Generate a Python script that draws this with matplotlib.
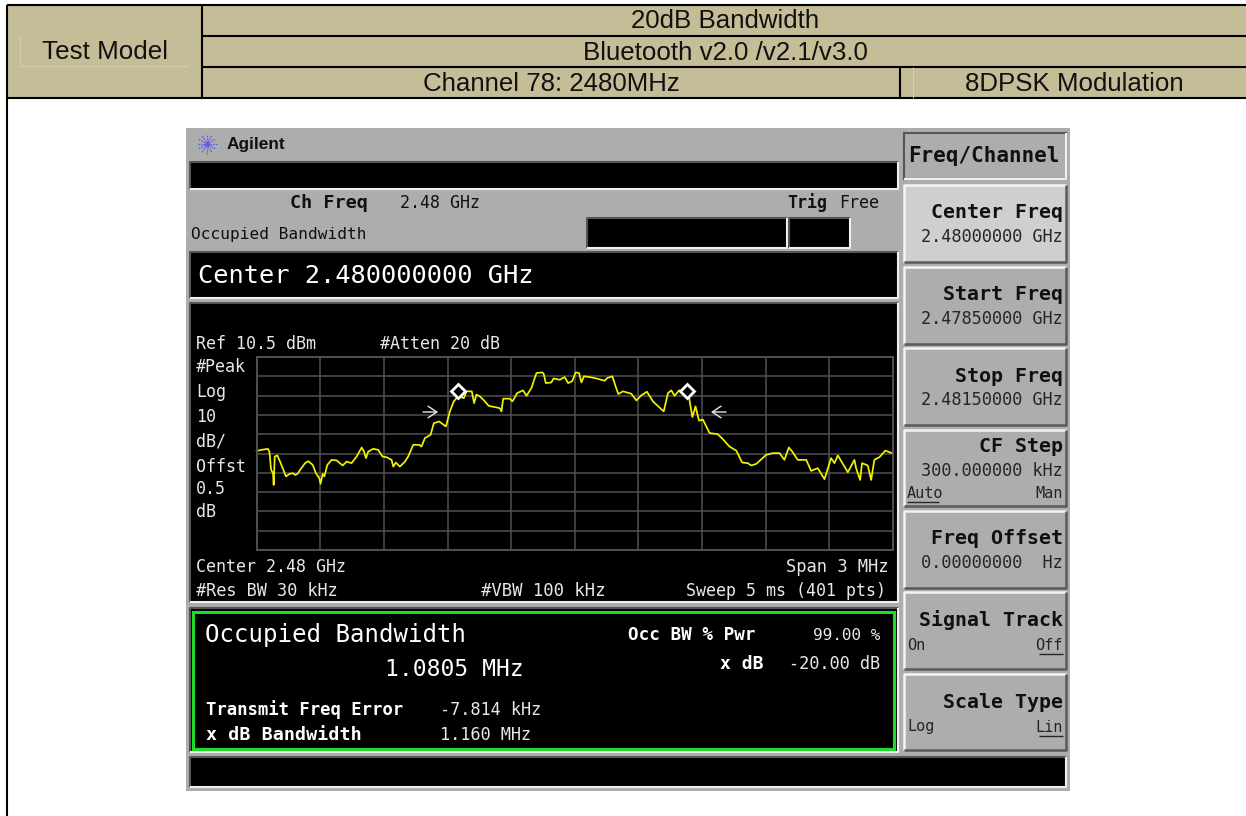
import matplotlib
matplotlib.use("Agg")
import matplotlib.pyplot as plt
from matplotlib.patches import Rectangle
import numpy as np

# ---------- data ----------
freq_offset_mhz = [-1.5,-1.476,-1.448,-1.44,-1.432,-1.423,-1.42,-1.415,-1.403,-1.39,-1.374,-1.362,-1.346,-1.33,-1.319,-1.308,
 -1.293,-1.272,-1.257,-1.236,-1.221,-1.205,-1.199,-1.189,-1.181,-1.167,-1.147,-1.123,-1.095,-1.076,-1.053,-1.029,-1.005,
 -0.994,-0.985,-0.974,-0.951,-0.927,-0.907,-0.888,-0.864,-0.856,-0.844,-0.825,-0.801,-0.786,-0.762,-0.734,-0.723,-0.707,
 -0.68,-0.665,-0.64,-0.608,-0.589,-0.571,-0.55,-0.523,-0.511,-0.486,-0.475,-0.464,-0.448,-0.432,-0.406,-0.377,-0.354,
 -0.346,-0.338,-0.307,-0.294,-0.272,-0.244,-0.228,-0.205,-0.181,-0.153,-0.147,-0.137,-0.111,-0.1,-0.071,-0.048,-0.032,
 -0.013,0.004,0.02,0.031,0.043,0.07,0.101,0.141,0.152,0.177,0.192,0.205,0.227,0.266,0.29,0.313,0.34,0.368,0.397,0.419,
 0.439,0.455,0.47,0.491,0.51,0.538,0.544,0.554,0.569,0.585,0.604,0.635,0.674,0.698,0.729,0.761,0.789,0.816,0.831,0.855,
 0.902,0.934,0.965,0.988,1.009,1.025,1.051,1.091,1.114,1.145,1.177,1.208,1.224,1.24,1.287,1.318,1.326,1.345,1.354,
 1.381,1.397,1.412,1.436,1.464,1.499]
level_dbm = [-38.1,-37.6,-37.1,-38.5,-48.0,-49.7,-55.8,-41.1,-40.5,-43.7,-48.0,-51.4,-50.1,-49.7,-50.6,-50.1,
 -47.6,-44.5,-43.5,-45.4,-49.7,-52.3,-55.2,-50.1,-51.4,-45.4,-42.8,-43.1,-45.7,-43.7,-44.5,-41.1,-36.4,
 -38.5,-41.9,-38.5,-37.1,-37.6,-41.1,-41.4,-42.8,-46.3,-44.2,-46.3,-43.7,-41.1,-35.0,-35.0,-35.9,-31.5,
 -29.8,-23.8,-22.9,-25.5,-17.7,-12.5,-9.9,-10.8,-7.3,-7.3,-13.4,-9.0,-9.9,-11.6,-14.8,-15.5,-16.0,
 -17.7,-11.1,-11.1,-12.5,-8.2,-6.8,-9.6,-5.6,2.2,2.5,1.8,-3.0,-2.7,-0.6,-1.3,0.1,-3.0,
 -2.1,2.5,2.2,-2.7,0.5,0.1,-0.6,-1.8,-0.4,0.5,-4.7,-8.7,-7.3,-8.5,-12.0,-9.4,-7.5,-12.5,-15.5,-17.7,
 -8.2,-6.8,-9.6,-6.8,-7.3,-9.9,-14.2,-20.6,-15.1,-22.4,-22.0,-28.9,-29.5,-32.1,-35.9,-38.0,-44.2,-44.5,-45.7,-44.9,
 -40.2,-39.3,-39.3,-42.8,-36.4,-38.5,-42.8,-42.8,-48.5,-47.1,-52.8,-41.9,-44.5,-40.5,-49.2,-42.8,-47.1,-53.2,-44.5,
 -45.7,-53.2,-42.8,-41.4,-38.0,-39.5]
marker_f = [-0.55, 0.53]
marker_l = [-7.0, -6.9]
ref_level = 10.5
db_per_div = 10
span_mhz = 3
softkeys = [("Center Freq", "2.48000000 GHz"), ("Start Freq", "2.47850000 GHz"), ("Stop Freq", "2.48150000 GHz"),
            ("CF Step", "300.000000 kHz"), ("Freq Offset", "0.00000000  Hz"), ("Signal Track", ""), ("Scale Type", "")]

W, H = 1246, 816
fig = plt.figure(figsize=(W/100, H/100), dpi=100, facecolor="white")
ax = fig.add_axes([0, 0, 1, 1])
ax.set_xlim(0, W); ax.set_ylim(H, 0); ax.axis("off")

TAN = "#C4BD97"; GRAY = "#ADADAD"; MONO = "DejaVu Sans Mono"; SANS = "Liberation Sans"

def rect(x0, y0, x1, y1, fc, ec="none", lw=0, z=1):
    ax.add_patch(Rectangle((x0, y0), x1-x0, y1-y0, fc=fc, ec=ec, lw=lw, zorder=z))

def line(xs, ys, c="black", lw=1.5, z=3):
    ax.plot(xs, ys, color=c, lw=lw, zorder=z, solid_capstyle="butt")

def txt(x, y, s, size, c="#101010", ha="left", weight="normal", fam=MONO):
    ax.text(x, y, s, fontsize=size, color=c, ha=ha, va="center", fontweight=weight, family=fam, zorder=6)

# ---------- table header ----------
rect(7, 5, W, 98, TAN)
line([7, W], [5, 5]); line([202, W], [36, 36]); line([202, W], [67, 67]); line([7, W], [98, 98])
line([7, 7], [5, H]); line([202, 202], [5, 98]); line([900, 900], [67, 98])
line([20, 20], [36, 66], c="#D4CEAE", lw=0.7); line([20, 188], [66, 66], c="#D4CEAE", lw=0.7)
line([913, 913], [67, 98], c="#D4CEAE", lw=0.7)
txt(105, 52, "Test Model", 18.7, ha="center", fam=SANS)
txt(725, 21, "20dB Bandwidth", 18.6, ha="center", fam=SANS)
txt(725, 53, "Bluetooth v2.0 /v2.1/v3.0", 18.6, ha="center", fam=SANS)
txt(551, 84, "Channel 78: 2480MHz", 18.6, ha="center", fam=SANS)
txt(1074, 84, "8DPSK Modulation", 18.6, ha="center", fam=SANS)

# ---------- instrument body ----------
rect(186, 128, 1070, 791, GRAY)
def black(x0, y0, x1, y1):
    rect(x0, y0, x1, y1, "black", z=2)
    line([x0, x0, x1], [y1, y0, y0], c="#555555", lw=1.5)
    line([x0, x1, x1], [y1, y1, y0], c="#F0F0F0", lw=1.5)
black(190, 162, 898, 189)
black(587, 218, 787, 248); black(789, 218, 850, 248)
black(190, 252, 898, 298); black(190, 303, 898, 602); black(190, 608, 898, 752)
black(190, 757, 1066, 787)
rect(193, 612, 894, 749, "none", ec="#1EDC28", lw=2.2, z=3)

# Agilent logo
for a in np.arange(0, 2*np.pi, np.pi/6):
    ax.plot([207+2.5*np.cos(a), 207+10*np.cos(a)], [144+2.5*np.sin(a), 144+10*np.sin(a)],
            color="#5A5AF0", lw=0.9, ls=(0, (1.3, 0.8)), zorder=3)
ax.plot([207], [144], "o", ms=2.5, color="#5A5AF0", zorder=3)
txt(227, 145, "Agilent", 12.4, weight="bold", fam=SANS)
txt(290, 203, "Ch Freq", 13.3, weight="bold")
txt(400, 203, "2.48 GHz", 12)
txt(191, 235, "Occupied Bandwidth", 11.6)
txt(787, 203, "Trig", 12, weight="bold")
txt(839, 203, "Free", 12)
txt(198, 276, "Center 2.480000000 GHz", 18.3, c="white")

# ---------- screen text ----------
W1 = "#E8E8E8"
txt(196, 344, "Ref 10.5 dBm", 12, c=W1); txt(380, 344, "#Atten 20 dB", 12, c=W1)
for s, y in [("#Peak", 367), ("Log", 392), ("10", 417), ("dB/", 442), ("Offst", 467), ("0.5", 489), ("dB", 512)]:
    txt(196, y, s, 12, c=W1)
txt(196, 567, "Center 2.48 GHz", 12, c=W1); txt(888, 567, "Span 3 MHz", 12.3, c=W1, ha="right")
txt(196, 591, "#Res BW 30 kHz", 12.2, c=W1); txt(481, 591, "#VBW 100 kHz", 12.4, c=W1)
txt(886, 591, "Sweep 5 ms (401 pts)", 12, c=W1, ha="right")

txt(205, 635, "Occupied Bandwidth", 17.3, c="white")
txt(385, 670, "1.0805 MHz", 16.6, c="white")
txt(628, 635, "Occ BW % Pwr", 12.7, c="white", weight="bold")
txt(880, 635, "99.00 %", 11.5, c=W1, ha="right")
txt(764, 664, "x dB", 13, c="white", weight="bold", ha="right")
txt(880, 664, "-20.00 dB", 12.2, c=W1, ha="right")
txt(206, 710, "Transmit Freq Error", 12.4, c="white", weight="bold")
txt(206, 735, "x dB Bandwidth", 13.2, c="white", weight="bold")
txt(440, 710, "-7.814 kHz", 12.2, c=W1)
txt(440, 735, "1.160 MHz", 12.2, c=W1)

# ---------- soft keys ----------
rect(904, 133, 1066, 179, GRAY, ec="#555555", lw=1.5, z=2)
line([904, 1066, 1066], [179, 179, 133], c="#F0F0F0", lw=1.5)
txt(908, 156, "Freq/Channel", 15, weight="bold")
tops = [185, 267, 348, 430, 511, 592, 674]
bots = [262, 344, 425, 506, 588, 669, 750]
name_dy = [28, 28, 28, 16, 28, 28, 28]
val_dy = [52, 52, 52, 41, 52, 52, 52]
for i, ((name, val), t, b) in enumerate(zip(softkeys, tops, bots)):
    rect(904, t, 1066, b, "#CFCFCF" if i == 0 else GRAY, z=2)
    line([904, 904, 1066], [b, t, t], c="#F4F4F4", lw=1.8)
    line([904, 1066, 1066], [b, b, t], c="#5A5A5A", lw=1.8)
    txt(1063, t+name_dy[i], name, 14.3, ha="right", weight="bold")
    if val:
        txt(1063, t+val_dy[i], val, 12.2, ha="right", c="#252525")
def opt(x, y, s, ul, ha):
    txt(x, y, s, 11, ha=ha, c="#252525")
    if ul:
        w = len(s)*7.95
        x0 = x if ha == "left" else x-w
        line([x0, x0+w], [y+9, y+9], c="#252525", lw=1)
opt(907, 493, "Auto", True, "left"); opt(1063, 493, "Man", False, "right")
opt(907, 645, "On", False, "left"); opt(1063, 645, "Off", True, "right")
opt(907, 727, "Log", False, "left"); opt(1063, 727, "Lin", True, "right")

# ---------- trace ----------
x0, x1, y0, y1 = 256.7, 893, 357, 550
tr = fig.add_axes([x0/W, 1-y1/H, (x1-x0)/W, (y1-y0)/H], facecolor="black")
tr.set_xlim(-span_mhz/2, span_mhz/2)
tr.set_ylim(ref_level-10*db_per_div, ref_level)
tr.set_xticks(np.linspace(-span_mhz/2, span_mhz/2, 11))
tr.set_yticks(np.linspace(ref_level-10*db_per_div, ref_level, 11))
tr.tick_params(length=0, labelbottom=False, labelleft=False)
tr.grid(True, color="#505050", lw=1.1)
tr.set_axisbelow(True)
for s in tr.spines.values():
    s.set_color("#505050"); s.set_linewidth(1.4)
tr.plot(freq_offset_mhz, level_dbm, color="#F2F200", lw=1.25, clip_on=False)
tr.plot(marker_f, marker_l, ls="none", marker="D", ms=7, mfc="black", mec="white", mew=2, clip_on=False)
arrow_y = -18
arrow = dict(arrowstyle="->,head_length=0.45,head_width=0.3", color="#E8E8E8", lw=1, shrinkA=0, shrinkB=0, mutation_scale=14)
tr.annotate("", xy=(-0.645, arrow_y), xytext=(-0.716, arrow_y), arrowprops=arrow)
tr.annotate("", xy=(0.642, arrow_y), xytext=(0.713, arrow_y), arrowprops=arrow)

assert len(freq_offset_mhz) == len(level_dbm)
fig.savefig("out.png", dpi=100, facecolor="white")
